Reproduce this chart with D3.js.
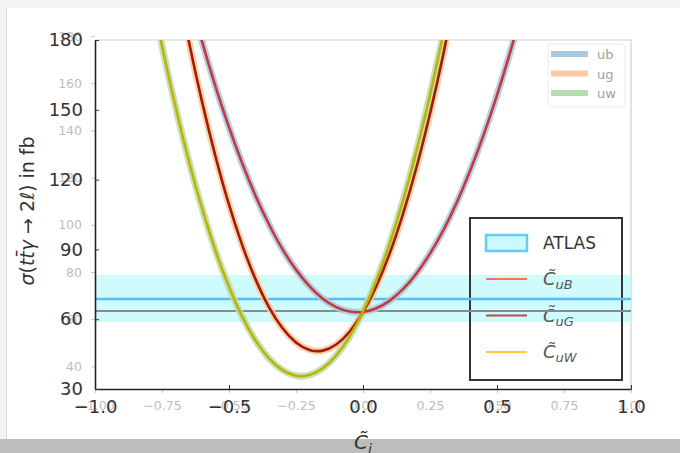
<!DOCTYPE html>
<html>
<head>
<meta charset="utf-8">
<script src="https://cdn.jsdelivr.net/npm/d3@7"></script>
<style>
  body { margin: 0; background: #f3f3f3; }
  svg { display: block; font-family: "DejaVu Sans", sans-serif; }
</style>
</head>
<body>
<div id="chart"></div>
<script>
//constants
const width = 680,
  height = 453,
  margin = { top: 40, bottom: 64, left: 95, right: 49 };

// coupling values, one grid per curve
const cB = [-0.65, -0.6, -0.55, -0.5, -0.45, -0.4, -0.35, -0.3, -0.25, -0.2, -0.15, -0.1, -0.05,
  0, 0.05, 0.1, 0.15, 0.2, 0.25, 0.3, 0.35, 0.4, 0.45, 0.5, 0.55, 0.6];
const sigmaB = [199.9, 179.1, 159.9, 142.5, 126.8, 112.8, 100.6, 90.0, 81.3, 74.2, 68.8, 65.2, 63.3,
  63.1, 64.7, 68.0, 73.0, 79.7, 88.2, 98.3, 110.2, 123.9, 139.2, 156.3, 175.1, 195.6];

const cG = [-0.7, -0.65, -0.6, -0.55, -0.5, -0.45, -0.4, -0.35, -0.3, -0.25, -0.2, -0.15, -0.1, -0.05,
  0, 0.05, 0.1, 0.15, 0.2, 0.25, 0.3, 0.35];
const sigmaG = [208.7, 179.5, 153.2, 129.8, 109.2, 91.6, 76.9, 65.0, 56.1, 50.0, 46.8, 46.5, 49.1, 54.6,
  63.0, 74.3, 88.4, 105.5, 125.4, 148.3, 174.0, 202.6];

const cW = [-0.8, -0.75, -0.7, -0.65, -0.6, -0.55, -0.5, -0.45, -0.4, -0.35, -0.3, -0.25, -0.2, -0.15,
  -0.1, -0.05, 0, 0.05, 0.1, 0.15, 0.2, 0.25, 0.3, 0.35];
const sigmaW = [206.1, 177.5, 151.5, 128.1, 107.4, 89.3, 73.8, 60.9, 50.7, 43.1, 38.1, 35.7, 36.0, 38.9,
  44.4, 52.5, 63.3, 76.7, 92.7, 111.3, 132.6, 156.5, 183.0, 212.1];

// ATLAS measurement and SM line
const atlas = { central: 68.7, low: 58.8, high: 79.0 };
const smValue = 63.5;

// tick labels: front axes and the faint one behind
const xTicksFront = [-1.0, -0.5, 0.0, 0.5, 1.0];
const xTicksBack = [-1.0, -0.75, -0.5, -0.25, 0.0, 0.25, 0.5, 0.75, 1.0];
const yTicksFront = [30, 60, 90, 120, 150, 180];
const yTicksBack = [40, 60, 80, 100, 120, 140, 160, 180];

const backNames = ["ub", "ug", "uw"];
const backColors = ["#a9c9e3", "#fcc9a0", "#b9ddb2"];
const frontNames = ["uB", "uG", "uW"];
const frontColors = ["#c43a36", "#a21c04", "#c2b100"];
const legendColors = ["#ff6f5e", "#b34d4d", "#ffc83d"];

const curves = [
  { c: cB, s: sigmaB },
  { c: cG, s: sigmaG },
  { c: cW, s: sigmaW }
];

const svg = d3.select("#chart")
  .append("svg")
  .attr("width", width)
  .attr("height", height);

// page frame
svg.append("rect").attr("x", 7).attr("y", 8).attr("width", width - 7).attr("height", height - 8).attr("fill", "white");
svg.append("line").attr("x1", 6.5).attr("x2", 6.5).attr("y1", 8).attr("y2", height).attr("stroke", "#d8d8d8");
svg.append("rect").attr("x", 0).attr("y", 439).attr("width", width).attr("height", 14).attr("fill", "#bdbdbd");

const x = d3.scaleLinear().domain([-1, 1]).range([margin.left, width - margin.right]);
const y = d3.scaleLinear().domain([30, 180]).range([height - margin.bottom, margin.top]);
const yBack = d3.scaleLinear().domain([30, 180]).range([height - margin.bottom + 1, margin.top - 4]);

svg.append("clipPath").attr("id", "plot")
  .append("rect")
  .attr("x", margin.left).attr("y", margin.top)
  .attr("width", x(1) - x(-1)).attr("height", y(30) - y(180));

// faint frame (top / right)
svg.append("path")
  .attr("d", `M${x(-1)},${y(180)}H${x(1)}V${y(30)}`)
  .attr("fill", "none").attr("stroke", "#cfcfcf").attr("stroke-width", 1.2);

// ATLAS band
svg.append("rect")
  .attr("x", x(-1)).attr("width", x(1) - x(-1))
  .attr("y", y(atlas.high)).attr("height", y(atlas.low) - y(atlas.high))
  .attr("fill", "#c8fafd").attr("opacity", 0.85);

// dark legend box (transparent, lines run through it)
const lg = svg.append("g");
lg.append("rect")
  .attr("x", 470).attr("y", 218).attr("width", 152).attr("height", 162)
  .attr("fill", "none").attr("stroke", "#333").attr("stroke-width", 2);
lg.append("rect")
  .attr("x", 486).attr("y", 235).attr("width", 41).attr("height", 16)
  .attr("fill", "#ccf8ff").attr("stroke", "#66ccf0").attr("stroke-width", 2.5);
lg.append("text").attr("x", 543).attr("y", 249).attr("font-size", 17).attr("fill", "#333").text("ATLAS");
frontNames.forEach((n, i) => {
  const yy = 279 + i * 36.5;
  lg.append("line").attr("x1", 486).attr("x2", 527).attr("y1", yy).attr("y2", yy)
    .attr("stroke", legendColors[i]).attr("stroke-width", 2);
  const t = lg.append("text").attr("x", 543).attr("y", yy + 6).attr("font-size", 18)
    .attr("fill", "#555").attr("font-style", "italic");
  t.append("tspan").text("C\u0303");
  t.append("tspan").attr("font-size", 13).attr("dy", 4).text(n);
});

svg.append("line")
  .attr("x1", x(-1)).attr("x2", x(1)).attr("y1", y(atlas.central)).attr("y2", y(atlas.central))
  .attr("stroke", "#55bdf5").attr("stroke-width", 2.5);
svg.append("line")
  .attr("x1", x(-1)).attr("x2", x(1)).attr("y1", y(smValue)).attr("y2", y(smValue))
  .attr("stroke", "#8a8a8a").attr("stroke-width", 2);

const line = d3.line()
  .x(d => x(d[0]))
  .y(d => y(d[1]))
  .curve(d3.curveNatural);

const plot = svg.append("g").attr("clip-path", "url(#plot)");

// faint thick curves behind
curves.forEach((cv, i) => {
  plot.append("path")
    .attr("d", line(d3.zip(cv.c, cv.s)))
    .attr("fill", "none").attr("stroke", backColors[i]).attr("stroke-width", 7).attr("opacity", 0.85);
});
// front thin curves
curves.forEach((cv, i) => {
  plot.append("path")
    .attr("d", line(d3.zip(cv.c, cv.s)))
    .attr("fill", "none").attr("stroke", frontColors[i]).attr("stroke-width", 2.6);
});

// faint axes behind
const xBackAxis = svg.append("g")
  .attr("transform", `translate(0,${y(30)})`)
  .call(d3.axisBottom(x).tickValues(xTicksBack).tickFormat(d => d3.format(".2f")(d).replace("-", "\u2212"))
    .tickSizeInner(4).tickSizeOuter(0).tickPadding(8));
const yBackAxis = svg.append("g")
  .attr("transform", `translate(${margin.left},0)`)
  .call(d3.axisLeft(yBack).tickValues(yTicksBack).tickSizeInner(4).tickSizeOuter(0).tickPadding(9));
[xBackAxis, yBackAxis].forEach(g => {
  g.select(".domain").remove();
  g.selectAll("line").attr("stroke", "#c8c8c8");
  g.selectAll("text").attr("fill", "#bdbdbd").style("font-size", "12.5px")
    .style("font-family", "DejaVu Sans, sans-serif");
});

// front axes
const xAxis = svg.append("g")
  .attr("transform", `translate(0,${y(30)})`)
  .call(d3.axisBottom(x).tickValues(xTicksFront).tickFormat(d => d3.format(".1f")(d).replace("-", "\u2212"))
    .tickSizeInner(-4).tickSizeOuter(0).tickPadding(11));
const yAxis = svg.append("g")
  .attr("transform", `translate(${margin.left},0)`)
  .call(d3.axisLeft(y).tickValues(yTicksFront).tickSizeInner(-4).tickSizeOuter(0).tickPadding(12));
[xAxis, yAxis].forEach(g => {
  g.select(".domain").attr("stroke", "#222").attr("stroke-width", 1.6);
  g.selectAll("line").attr("stroke", "#333");
  g.selectAll("text").attr("fill", "#333").style("font-size", "18px")
    .style("font-family", "DejaVu Sans, sans-serif");
});

// faint legend (top right)
const lb = svg.append("g");
lb.append("rect")
  .attr("x", 548).attr("y", 44).attr("width", 77).attr("height", 63).attr("rx", 3)
  .attr("fill", "white").attr("stroke", "#ececec");
backNames.forEach((n, i) => {
  const yy = 54 + i * 19.5;
  lb.append("line").attr("x1", 551).attr("x2", 588).attr("y1", yy).attr("y2", yy)
    .attr("stroke", backColors[i]).attr("stroke-width", 6);
  lb.append("text").attr("x", 597).attr("y", yy + 5).attr("font-size", 13).attr("fill", "#a0a0a0").text(n);
});

// axis titles
const xt = svg.append("text")
  .attr("x", x(0)).attr("y", 449).attr("text-anchor", "middle")
  .attr("font-size", 20).attr("font-style", "italic").attr("fill", "#333");
xt.append("tspan").text("C\u0303");
xt.append("tspan").attr("font-size", 14).attr("dy", 5).text("i");

const yt = svg.append("text")
  .attr("transform", `translate(34,${211}) rotate(-90)`)
  .attr("text-anchor", "middle").attr("font-size", 19).attr("fill", "#333");
yt.append("tspan").attr("font-style", "italic").text("\u03c3");
yt.append("tspan").text("(");
yt.append("tspan").attr("font-style", "italic").text("tt\u0304\u03b3");
yt.append("tspan").text(" \u2192 2");
yt.append("tspan").attr("font-style", "italic").text("\u2113");
yt.append("tspan").text(") in fb");
</script>
</body>
</html>
